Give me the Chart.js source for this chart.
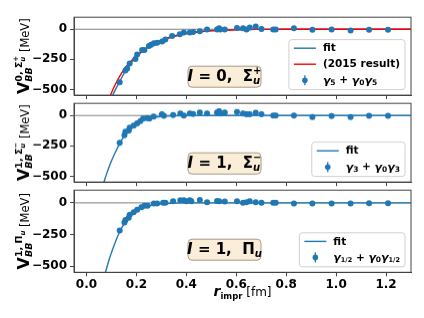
<!DOCTYPE html>
<html>
<head>
<meta charset="utf-8">
<script src="https://cdn.jsdelivr.net/npm/chart.js@4/dist/chart.umd.min.js"></script>
<style>
  body { margin: 0; background: #fff; width: 424px; height: 318px; position: relative; overflow: hidden; }
  .panel { position: absolute; left: 0; width: 424px; }
</style>
</head>
<body>
<div class="panel" id="w1"><canvas id="c1"></canvas></div>
<div class="panel" id="w2"><canvas id="c2"></canvas></div>
<div class="panel" id="w3"><canvas id="c3"></canvas></div>
<script>
// ---- data ----
const xTicks = [0, 0.2, 0.4, 0.6, 0.8, 1.0, 1.2];
const yTicks = [-500, -250, 0];

// I=0, Sigma_u^+
const r1 = [0.133, 0.156, 0.163, 0.173, 0.196, 0.203, 0.223, 0.232, 0.250, 0.259, 0.270, 0.283, 0.303, 0.316, 0.343,
            0.374, 0.390, 0.414, 0.427, 0.454, 0.483, 0.523, 0.531, 0.536, 0.554, 0.603, 0.627, 0.641, 0.654, 0.678,
            0.701, 0.748, 0.758, 0.831, 0.905, 0.982, 1.058, 1.132, 1.208];
const v1 = [-440, -342, -327, -285, -248, -210, -172, -172, -140, -128, -117, -112, -102, -85, -57,
            -42, -27, -27, -22, -17, -2, -2, 8, -2, -2, 10, 8, -2, 15, 22,
            3, -2, -2, 8, -5, -2, -10, -5, -5];
const fit1R = [0.105, 0.12, 0.133, 0.15, 0.17, 0.2, 0.23, 0.26, 0.3, 0.35, 0.4, 0.45, 0.5, 0.6, 0.7, 0.8, 1.3];
const fit1V = [-548, -485, -435, -368, -302, -228, -172, -130, -90, -56, -33, -19, -11, -3, -1, 0, 0];
const old1R = [0.096, 0.11, 0.125, 0.14, 0.16, 0.2, 0.23, 0.26, 0.3, 0.35, 0.4, 0.45, 0.5, 0.6, 0.7, 0.8, 1.3];
const old1V = [-548, -482, -420, -366, -306, -222, -173, -134, -94, -61, -38, -23, -14, -4, -1, 0, 0];

// I=1, Sigma_u^-
const r2 = [0.133, 0.152, 0.156, 0.169, 0.173, 0.189, 0.203, 0.216, 0.227, 0.242, 0.252, 0.269, 0.302, 0.310, 0.347,
            0.376, 0.390, 0.414, 0.427, 0.454, 0.483, 0.523, 0.531, 0.536, 0.554, 0.603, 0.627, 0.641, 0.654, 0.678,
            0.701, 0.748, 0.758, 0.831, 0.905, 0.982, 1.058, 1.132, 1.208];
const v2 = [-225, -162, -132, -125, -100, -83, -65, -45, -25, -20, -25, -8, 10, -2, 5,
            17, 0, 17, 12, 25, 17, 25, 35, 17, 25, 30, 17, 10, 10, 22,
            10, 0, 0, 0, -12, -5, -12, -2, -2];
const fit2R = [0.07, 0.08, 0.09, 0.1, 0.115, 0.133, 0.15, 0.17, 0.19, 0.21, 0.24, 0.27, 0.3, 0.35, 0.4, 1.3];
const fit2V = [-548, -483, -425, -373, -305, -232, -172, -121, -83, -56, -31, -16, -8, -2, 0, 0];

// I=1, Pi_u
const r3 = [0.133, 0.152, 0.156, 0.169, 0.173, 0.189, 0.203, 0.220, 0.232, 0.245, 0.270, 0.283, 0.307, 0.316, 0.347,
            0.376, 0.390, 0.400, 0.414, 0.420, 0.454, 0.483, 0.523, 0.531, 0.554, 0.603, 0.627, 0.641, 0.654, 0.678,
            0.701, 0.748, 0.758, 0.831, 0.905, 0.982, 1.058, 1.132, 1.208];
const v3 = [-218, -155, -135, -118, -93, -73, -55, -35, -23, -23, -5, -5, 2, 2, 12,
            20, 20, 12, 20, 12, 22, 5, 15, 12, 10, 12, 2, 5, 12, 5,
            2, 2, 2, -5, -5, -5, -5, -2, -2];
const fit3R = [0.076, 0.09, 0.1, 0.115, 0.133, 0.15, 0.17, 0.19, 0.21, 0.24, 0.27, 0.3, 0.35, 0.4, 1.3];
const fit3V = [-548, -452, -392, -312, -228, -168, -119, -81, -54, -29, -15, -7, -2, 0, 0];

// ---- drawing helpers ----
const FAM = "'DejaVu Sans'";
const B = s => `bold ${s}px ${FAM}`;
const BI = s => `italic bold ${s}px ${FAM}`;
const N = s => `${s}px ${FAM}`;
const BLUE = '#1f77b4';
const AXIS = '#444';

// segments: [text, font, dy] ; '(' start stacked group, '|' next stacked part, ')' end group
function rich(ctx, segs, draw) {
  let x = 0; const st = [];
  for (const s of segs) {
    if (s === '(') { st.push({ x0: x, m: x }); continue; }
    if (s === '|') { const t = st[st.length - 1]; t.m = Math.max(t.m, x); x = t.x0; continue; }
    if (s === ')') { const t = st.pop(); x = Math.max(t.m, x); continue; }
    ctx.font = s[1];
    if (draw) ctx.fillText(s[0], x, s[2] || 0);
    x += ctx.measureText(s[0]).width;
  }
  return x;
}

function roundRect(ctx, x, y, w, h, r) {
  ctx.beginPath();
  ctx.moveTo(x + r, y); ctx.lineTo(x + w - r, y); ctx.quadraticCurveTo(x + w, y, x + w, y + r);
  ctx.lineTo(x + w, y + h - r); ctx.quadraticCurveTo(x + w, y + h, x + w - r, y + h);
  ctx.lineTo(x + r, y + h); ctx.quadraticCurveTo(x, y + h, x, y + h - r);
  ctx.lineTo(x, y + r); ctx.quadraticCurveTo(x, y, x + r, y);
  ctx.closePath();
}

const T0 = 13, H = 86.3, PAD = 6;

function makePanel(idx, cfg) {
  const top = T0 + H * idx;
  const last = idx === 2;
  const xh = last ? 318 - (top + H) : PAD;
  const wrap = document.getElementById('w' + (idx + 1));
  wrap.style.top = (top - PAD) + 'px';
  wrap.style.height = (PAD + H + xh) + 'px';

  const datasets = [
    { data: cfg.r.map((x, i) => ({ x, y: cfg.v[i] })), pointRadius: 3, pointHoverRadius: 3,
      pointBackgroundColor: BLUE, pointBorderWidth: 0, showLine: false, order: 0 }
  ];
  cfg.lines.forEach(l => datasets.push({
    data: l.r.map((x, i) => ({ x, y: l.v[i] })), showLine: true, borderColor: l.color, borderWidth: 1.4,
    pointRadius: 0, cubicInterpolationMode: 'monotone', order: l.order
  }));

  const deco = {
    id: 'deco' + idx,
    beforeDatasetsDraw(chart) {
      const { ctx, chartArea: a, scales } = chart;
      const y0 = scales.y.getPixelForValue(0);
      ctx.save(); ctx.strokeStyle = '#808080'; ctx.lineWidth = 1;
      ctx.beginPath(); ctx.moveTo(a.left, y0); ctx.lineTo(a.right, y0); ctx.stroke(); ctx.restore();
    },
    afterDraw(chart) {
      const { ctx, chartArea: a } = chart;
      ctx.save();
      // frame
      ctx.strokeStyle = AXIS; ctx.lineWidth = 1;
      ctx.strokeRect(a.left, a.top, a.right - a.left, a.bottom - a.top);

      // annotation box
      ctx.textBaseline = 'middle'; ctx.textAlign = 'left';
      const bx = 188, bw = 73, by = a.top + 49, bh = 21;
      roundRect(ctx, bx, by, bw, bh, 4);
      ctx.fillStyle = '#faeed9'; ctx.fill();
      ctx.strokeStyle = '#a89a88'; ctx.lineWidth = 1; ctx.stroke();
      ctx.fillStyle = '#000';
      const tw = rich(ctx, cfg.tag, false);
      ctx.save(); ctx.translate(bx + (bw - tw) / 2, by + bh / 2 + 0.5); rich(ctx, cfg.tag, true); ctx.restore();

      // legend
      let lw = 0;
      cfg.legend.forEach(e => { lw = Math.max(lw, rich(ctx, e.label, false)); });
      const boxW = 34 + lw + 5, boxH = cfg.legend.length * 16 + 2;
      const lx = a.right - 6 - boxW, ly = a.bottom - 5.5 - boxH;
      roundRect(ctx, lx, ly, boxW, boxH, 3);
      ctx.fillStyle = 'rgba(255,255,255,0.85)'; ctx.fill();
      ctx.strokeStyle = '#d0d0d0'; ctx.stroke();
      cfg.legend.forEach((e, i) => {
        const cy = ly + 8.6 + 16 * i;
        if (e.kind === 'line') {
          ctx.strokeStyle = e.color; ctx.lineWidth = 1.4;
          ctx.beginPath(); ctx.moveTo(lx + 5, cy); ctx.lineTo(lx + 27, cy); ctx.stroke();
        } else {
          ctx.strokeStyle = BLUE; ctx.lineWidth = 1.3;
          ctx.beginPath(); ctx.moveTo(lx + 16, cy - 5); ctx.lineTo(lx + 16, cy + 5); ctx.stroke();
          ctx.fillStyle = BLUE; ctx.beginPath(); ctx.arc(lx + 16, cy, 2.8, 0, Math.PI * 2); ctx.fill();
        }
        ctx.fillStyle = '#000';
        ctx.save(); ctx.translate(lx + 34, cy + 0.5); rich(ctx, e.label, true); ctx.restore();
      });

      // y title
      ctx.textBaseline = 'alphabetic';
      const yw = rich(ctx, cfg.ytitle, false);
      ctx.save(); ctx.translate(29, (a.top + a.bottom) / 2); ctx.rotate(-Math.PI / 2);
      ctx.translate(-yw / 2, 0); rich(ctx, cfg.ytitle, true); ctx.restore();

      // x title
      if (last) {
        const xt = [['r', BI(14)], '(', ['impr', B(8.5), 3], ')', [' [fm]', N(12)]];
        const xw = rich(ctx, xt, false);
        ctx.save(); ctx.translate((a.left + a.right) / 2 - xw / 2, 296 - (top - PAD)); rich(ctx, xt, true); ctx.restore();
      }
      ctx.restore();
    }
  };

  return new Chart(document.getElementById('c' + (idx + 1)), {
    type: 'scatter',
    data: { datasets },
    options: {
      responsive: true, maintainAspectRatio: false, animation: false, devicePixelRatio: 1,
      layout: { padding: { top: PAD, right: 13, left: 0, bottom: 0 } },
      plugins: { legend: { display: false }, tooltip: { enabled: false } },
      scales: {
        x: {
          type: 'linear', min: -0.05, max: 1.3,
          afterBuildTicks: s => { s.ticks = xTicks.map(v => ({ value: v })); },
          afterFit: s => { s.height = xh; },
          ticks: { display: last, autoSkip: false, maxRotation: 0, padding: 1, color: '#000',
                   font: { family: 'DejaVu Sans', size: 12, weight: 'bold' }, callback: v => v.toFixed(1) },
          grid: { drawOnChartArea: false, tickLength: 4, color: AXIS },
          border: { color: AXIS }
        },
        y: {
          min: -547, max: 100,
          afterBuildTicks: s => { s.ticks = yTicks.map(v => ({ value: v })); },
          afterFit: s => { s.width = 74; },
          ticks: { padding: 3, color: '#000', font: { family: 'DejaVu Sans', size: 12, weight: 'bold' },
                   callback: v => (v < 0 ? '\u2212' + (-v) : String(v)) },
          grid: { drawOnChartArea: false, tickLength: 4, color: AXIS },
          border: { color: AXIS }
        }
      }
    },
    plugins: [deco]
  });
}

const gam = (sub, sz) => [['γ', BI(11)], [sub, B(sz || 7.5), 2.5]];

makePanel(0, {
  r: r1, v: v1,
  lines: [{ r: fit1R, v: fit1V, color: BLUE, order: 2 }, { r: old1R, v: old1V, color: '#ff0000', order: 1 }],
  tag: [['I', BI(15)], [' = 0,  ', B(15)], ['Σ', B(15)], '(', ['+', B(10), -6], '|', ['u', BI(10), 4], ')'],
  legend: [
    { kind: 'line', color: BLUE, label: [['fit', B(10.5)]] },
    { kind: 'line', color: '#ff0000', label: [['(2015 result)', B(10.5)]] },
    { kind: 'err', label: [...gam('5'), [' + ', B(10.5)], ...gam('0'), ...gam('5')] }
  ],
  ytitle: [['V', B(16)], '(', ['BB', BI(9.5), 3], '|', ['0, Σ', B(9.5), -7], '(', ['+', B(7), -11], '|', ['u', BI(7), -4], ')', ')', [' [MeV]', N(11.5)]]
});

makePanel(1, {
  r: r2, v: v2,
  lines: [{ r: fit2R, v: fit2V, color: BLUE, order: 1 }],
  tag: [['I', BI(15)], [' = 1,  ', B(15)], ['Σ', B(15)], '(', ['−', B(10), -6], '|', ['u', BI(10), 4], ')'],
  legend: [
    { kind: 'line', color: BLUE, label: [['fit', B(10.5)]] },
    { kind: 'err', label: [...gam('3'), [' + ', B(10.5)], ...gam('0'), ...gam('3')] }
  ],
  ytitle: [['V', B(16)], '(', ['BB', BI(9.5), 3], '|', ['1, Σ', B(9.5), -7], '(', ['−', B(7), -11], '|', ['u', BI(7), -4], ')', ')', [' [MeV]', N(11.5)]]
});

makePanel(2, {
  r: r3, v: v3,
  lines: [{ r: fit3R, v: fit3V, color: BLUE, order: 1 }],
  tag: [['I', BI(15)], [' = 1,  ', B(15)], ['Π', B(15)], ['u', BI(10), 4]],
  legend: [
    { kind: 'line', color: BLUE, label: [['fit', B(10.5)]] },
    { kind: 'err', label: [...gam('1/2', 6.5), [' + ', B(10.5)], ...gam('0'), ...gam('1/2', 6.5)] }
  ],
  ytitle: [['V', B(16)], '(', ['BB', BI(9.5), 3], '|', ['1, Π', B(9.5), -7], ['u', BI(7), -4], ')', [' [MeV]', N(11.5)]]
});
</script>
</body>
</html>
